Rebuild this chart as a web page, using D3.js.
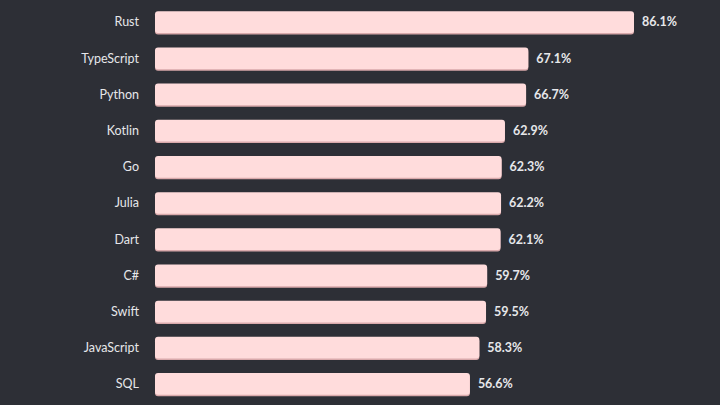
<!DOCTYPE html>
<html><head><meta charset="utf-8">
<script src="https://cdn.jsdelivr.net/npm/d3@7"></script>
<style>html,body{margin:0;padding:0;background:#2d2f36;}svg{display:block;}</style>
</head><body>
<svg id="c" width="720" height="405"></svg>
<script>
const languages = ["Rust","TypeScript","Python","Kotlin","Go","Julia","Dart","C#","Swift","JavaScript","SQL"];
const loved = [86.1,67.1,66.7,62.9,62.3,62.2,62.1,59.7,59.5,58.3,56.6];

const svg = d3.select("#c");
svg.append("rect").attr("width",720).attr("height",405).attr("fill","#2d2f36");
const x0 = 155;
const x = d3.scaleLinear().domain([0, 86.1]).range([x0, 634]);
const y = d3.scaleBand().domain(languages).range([4, 402]).paddingInner(0.4).paddingOuter(0.2);
const data = languages.map((l,i)=>({l, v: loved[i]}));
const g = svg.append("g");
// shadow
g.selectAll("rect.s").data(data).join("rect").attr("class","s")
  .attr("x", x0).attr("y", d=>y(d.l)+1.5).attr("width", d=>x(d.v)-x0).attr("height", y.bandwidth())
  .attr("rx",3).attr("fill","#d9a9ab");
g.selectAll("rect.b").data(data).join("rect").attr("class","b")
  .attr("x", x0).attr("y", d=>y(d.l)).attr("width", d=>x(d.v)-x0).attr("height", y.bandwidth())
  .attr("rx",3).attr("fill","#ffdcdc");
g.selectAll("text.l").data(data).join("text").attr("class","l")
  .attr("x", 139).attr("y", d=>y(d.l)+y.bandwidth()/2).attr("dy","0.35em")
  .attr("text-anchor","end").attr("fill","#e6e7ea")
  .style("font-family","Lato, sans-serif").style("font-size","12.5px")
  .text(d=>d.l);
g.selectAll("text.v").data(data).join("text").attr("class","v")
  .attr("x", d=>x(d.v)+8).attr("y", d=>y(d.l)+y.bandwidth()/2).attr("dy","0.35em")
  .attr("fill","#e6e7ea").style("font-weight","bold")
  .style("font-family","Lato, sans-serif").style("font-size","12.5px")
  .text(d=>d.v.toFixed(1)+"%");
</script>
</body></html>
